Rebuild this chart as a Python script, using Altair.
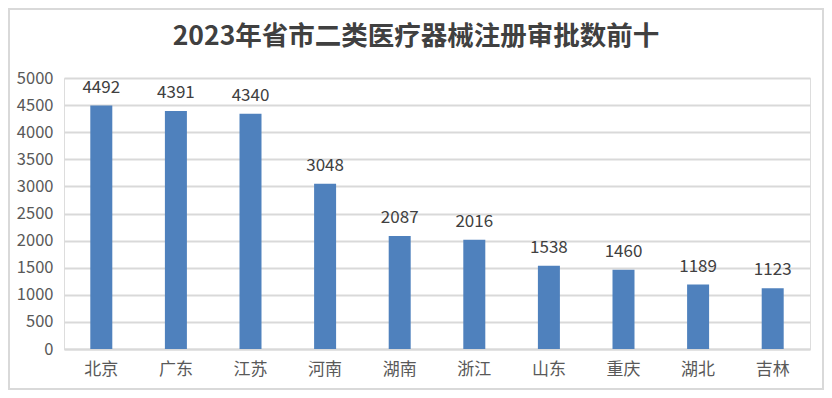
import altair as alt
import pandas as pd

title_text = "2023年省市二类医疗器械注册审批数前十"
provinces = ["北京", "广东", "江苏", "河南", "湖南", "浙江", "山东", "重庆", "湖北", "吉林"]
counts = [4492, 4391, 4340, 3048, 2087, 2016, 1538, 1460, 1189, 1123]
y_ticks = list(range(0, 5001, 500))

df = pd.DataFrame({"省市": provinces, "数量": counts})

W, H = 746, 271
PL, PT, PR, PB = 56, 70, 14, 41

x_axis = alt.Axis(labelAngle=0, labelFont="Noto Sans CJK SC", labelFontSize=17,
                  labelColor="#595959", labelPadding=12, ticks=False,
                  domainColor="#d9d9d9", domainWidth=2)
y_axis = alt.Axis(values=y_ticks, format="d", labelFont="Noto Sans CJK SC",
                  labelFontSize=16.5, labelColor="#595959", labelPadding=11,
                  labelOverlap=False, ticks=False, domain=False,
                  gridColor="#d9d9d9", gridWidth=2)
x_enc = alt.X("省市:N", sort=provinces, title=None, axis=x_axis)
y_enc = alt.Y("数量:Q", title=None, scale=alt.Scale(domain=[0, 5000]), axis=y_axis)

base = alt.Chart(df)

bars = base.mark_bar(color="#4F81BD", size=22).encode(x=x_enc, y=y_enc)

labels = base.mark_text(baseline="bottom", dy=-9, fontSize=17, color="#404040",
                        font="Noto Sans CJK SC").encode(
    x=x_enc, y=y_enc, text=alt.Text("数量:Q"),
)

one = pd.DataFrame({"t": [title_text]})

title = alt.Chart(one).mark_text(
    font="Noto Sans CJK SC", fontSize=26.5, fontWeight="bold", color="#404040",
    align="center", baseline="middle",
).encode(
    text="t:N", x=alt.value(416 - 8 - PL), y=alt.value(37 - 8 - PT),
)

frame = alt.Chart(one).mark_rect(
    fill=None, stroke="#d9d9d9", strokeWidth=2, clip=False
).encode(
    x=alt.value(-PL + 1), x2=alt.value(W + PR - 1),
    y=alt.value(-PT + 1), y2=alt.value(H + PB - 1),
)

chart = alt.layer(bars, labels, title, frame).properties(
    width=W, height=H,
    padding={"left": PL, "top": PT, "right": PR, "bottom": PB},
    autosize=alt.AutoSizeParams(type="none"),
).configure_view(strokeWidth=0).configure(background="white")

chart.save("out.html", embed_options={"renderer": "svg", "actions": False})
